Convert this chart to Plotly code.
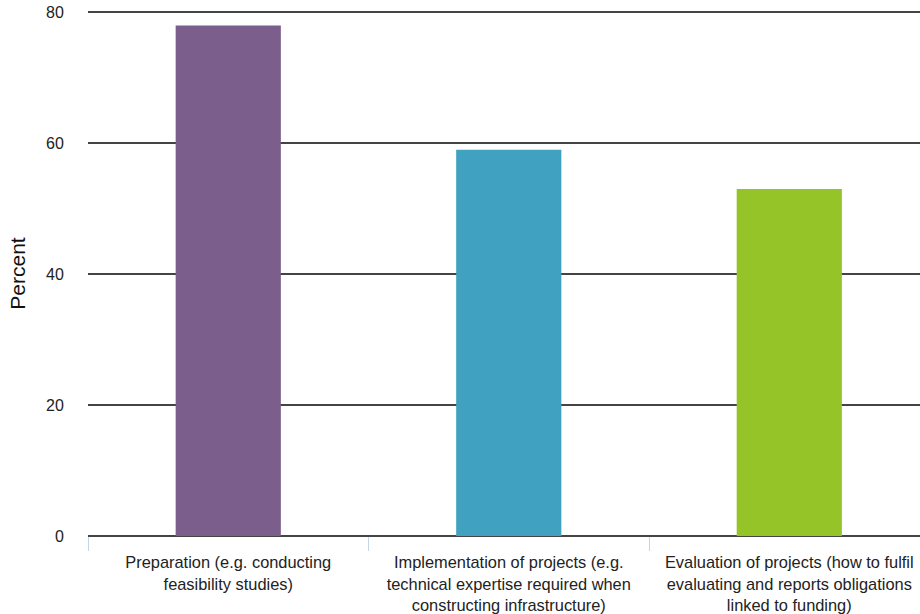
import plotly.graph_objects as go

categories = [
    "Preparation (e.g. conducting<br>feasibility studies)",
    "Implementation of projects (e.g.<br>technical expertise required when<br>constructing infrastructure)",
    "Evaluation of projects (how to fulfil<br>evaluating and reports obligations<br>linked to funding)",
]
values = [78, 59, 53]
colors = ["#7b5e8c", "#40a2c0", "#95c428"]
y_ticks = [0, 20, 40, 60, 80]

fig = go.Figure(go.Bar(
    x=categories, y=values,
    marker=dict(color=colors, line=dict(width=0)),
))

fig.update_layout(
    width=920, height=614,
    margin=dict(l=87.5, r=0, t=10.7, b=78),
    plot_bgcolor="white", paper_bgcolor="white",
    bargap=0.625,
    showlegend=False,
    font=dict(family="Liberation Sans, Arial, sans-serif", color="#222", size=13),
)
fig.update_xaxes(
    range=[-0.5, 2.466],
    showgrid=False, showline=False, zeroline=False,
    ticks="outside", tickson="boundaries", ticklen=14, tickcolor="#c8d4e8", tickwidth=1,
    ticklabelstandoff=15,
    tickfont=dict(size=16.4, color="#222"),
)
fig.update_yaxes(
    range=[0, 80.2], tickvals=y_ticks,
    showgrid=True, gridcolor="#444", gridwidth=2,
    zeroline=True, zerolinecolor="#444", zerolinewidth=2,
    showline=False,
    ticks="outside", ticklen=20, tickcolor="rgba(0,0,0,0)",
    tickfont=dict(size=16, color="#222"),
    title=dict(text="Percent", font=dict(size=21, color="#111"), standoff=14),
)

fig.write_html("out.html")
